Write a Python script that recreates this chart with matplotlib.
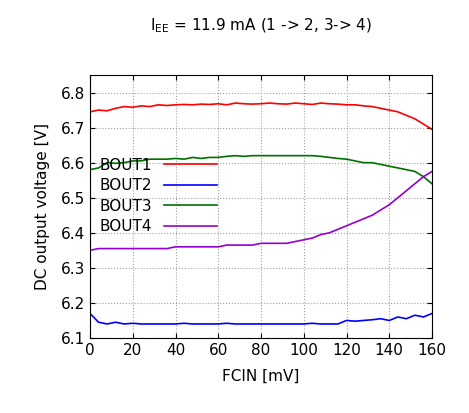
import matplotlib
matplotlib.use("Agg")
import matplotlib.pyplot as plt

fcin = list(range(0, 161, 4))
bout1 = [6.745,6.75,6.748,6.755,6.76,6.758,6.762,6.76,6.765,6.763,6.765,6.766,6.765,6.767,6.766,6.768,6.765,6.77,6.768,6.767,6.768,6.77,6.768,6.767,6.77,6.768,6.766,6.77,6.768,6.767,6.765,6.765,6.762,6.76,6.755,6.75,6.745,6.735,6.725,6.71,6.695]
bout2 = [6.17,6.145,6.14,6.145,6.14,6.142,6.14,6.14,6.14,6.14,6.14,6.142,6.14,6.14,6.14,6.14,6.142,6.14,6.14,6.14,6.14,6.14,6.14,6.14,6.14,6.14,6.142,6.14,6.14,6.14,6.15,6.148,6.15,6.152,6.155,6.15,6.16,6.155,6.165,6.16,6.17]
bout3 = [6.58,6.585,6.60,6.598,6.60,6.605,6.605,6.61,6.61,6.61,6.612,6.61,6.615,6.612,6.615,6.615,6.618,6.62,6.618,6.62,6.62,6.62,6.62,6.62,6.62,6.62,6.62,6.618,6.615,6.612,6.61,6.605,6.60,6.60,6.595,6.59,6.585,6.58,6.575,6.56,6.54]
bout4 = [6.35,6.355,6.355,6.355,6.355,6.355,6.355,6.355,6.355,6.355,6.36,6.36,6.36,6.36,6.36,6.36,6.365,6.365,6.365,6.365,6.37,6.37,6.37,6.37,6.375,6.38,6.385,6.395,6.40,6.41,6.42,6.43,6.44,6.45,6.465,6.48,6.50,6.52,6.54,6.56,6.575]

fig = plt.figure(figsize=(4.69, 4.13), dpi=100)
ax = fig.add_axes([90/469, 75/413, 342/469, 263/413])
ax.plot(fcin, bout1, color="#ff0000", lw=1.2, label="BOUT1")
ax.plot(fcin, bout2, color="#0000ff", lw=1.2, label="BOUT2")
ax.plot(fcin, bout3, color="#007000", lw=1.2, label="BOUT3")
ax.plot(fcin, bout4, color="#9400d3", lw=1.2, label="BOUT4")
ax.set_xlim(0, 160)
ax.set_ylim(6.1, 6.85)
ax.set_xticks(range(0, 161, 20))
ax.set_yticks([6.1, 6.2, 6.3, 6.4, 6.5, 6.6, 6.7, 6.8])
ax.grid(True, color="#a0a0a0", ls=":", lw=0.8)
ax.tick_params(direction="in", top=True, right=True, labelsize=11)
ax.set_xlabel("FCIN [mV]", fontsize=11, labelpad=8)
ax.set_ylabel("DC output voltage [V]", fontsize=11, labelpad=8)
ax.set_title(r"I$_{\mathrm{EE}}$ = 11.9 mA (1 -> 2, 3-> 4)", fontsize=11, pad=32)
leg = ax.legend(loc="upper left", bbox_to_anchor=(0.0, 0.72), frameon=False,
                markerfirst=False, fontsize=11, handlelength=3.5, labelspacing=0.35,
                borderaxespad=0.2)
fig.savefig("out.png", dpi=100)
